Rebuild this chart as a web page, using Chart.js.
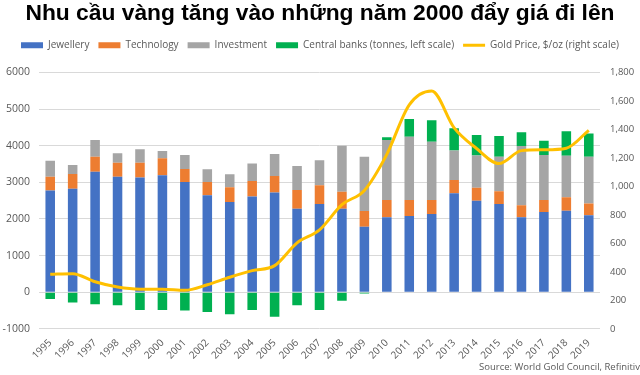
<!DOCTYPE html>
<html>
<head>
<meta charset="utf-8">
<script src="https://cdn.jsdelivr.net/npm/chart.js@4"></script>
<style>
  html, body { margin: 0; padding: 0; background: #fff; }
  #wrap { width: 640px; height: 375px; }
</style>
</head>
<body>
<div id="wrap"><canvas id="chartVang"></canvas></div>
<script>
// Dữ liệu (tấn, giá USD/oz)
const years = ['1995','1996','1997','1998','1999','2000','2001','2002','2003','2004','2005','2006','2007',
               '2008','2009','2010','2011','2012','2013','2014','2015','2016','2017','2018','2019'];
const jewellery   = [2775, 2825, 3290, 3155, 3135, 3190, 3010, 2645, 2465, 2610, 2720, 2280, 2410,
                     2280, 1790, 2045, 2080, 2135, 2700, 2500, 2410, 2045, 2190, 2225, 2100];
const technology  = [380, 400, 410, 380, 400, 465, 355, 365, 400, 425, 455, 510, 510,
                     465, 425, 475, 435, 380, 365, 355, 345, 330, 325, 365, 325];
const investment  = [435, 245, 455, 255, 365, 200, 380, 345, 355, 480, 600, 655, 680,
                     1255, 1480, 1635, 1730, 1590, 800, 880, 945, 1615, 1230, 1135, 1275];
const centralBanks = [-180, -280, -325, -355, -480, -480, -500, -535, -600, -480, -665, -355, -480,
                      -230, -30, 75, 480, 590, 610, 555, 565, 375, 390, 665, 635];
const goldPrice   = [384, 388, 331, 294, 279, 279, 271, 310, 363, 409, 444, 604, 695,
                     872, 972, 1225, 1572, 1669, 1411, 1266, 1160, 1251, 1257, 1268, 1393];

const mauChu = '#595959';

// thêm khoảng trống dưới chú thích
const legendMargin = {
    id: 'legendMargin',
    beforeInit(chart) {
        const fitGoc = chart.legend.fit;
        chart.legend.fit = function () {
            fitGoc.call(this);
            this.height += 12;
        };
    }
};

new Chart(document.getElementById('chartVang'), {
    type: 'bar',
    data: {
        labels: years,
        datasets: [
            { label: 'Jewellery', data: jewellery, backgroundColor: '#4472C4', borderWidth: 0, order: 1, pointStyle: 'rect' },
            { label: 'Technology', data: technology, backgroundColor: '#ED7D31', borderWidth: 0, order: 1, pointStyle: 'rect' },
            { label: 'Investment', data: investment, backgroundColor: '#A5A5A5', borderWidth: 0, order: 1, pointStyle: 'rect' },
            { label: 'Central banks (tonnes, left scale)', data: centralBanks, backgroundColor: '#00B050', borderWidth: 0, order: 1, pointStyle: 'rect' },
            {
                type: 'line',
                label: 'Gold Price, $/oz (right scale)',
                data: goldPrice,
                yAxisID: 'y1',
                borderColor: '#FFC000',
                backgroundColor: '#FFC000',
                borderWidth: 3,
                pointRadius: 0,
                pointStyle: 'line',
                cubicInterpolationMode: 'monotone',
                order: 0
            }
        ]
    },
    plugins: [legendMargin],
    options: {
        responsive: true,
        maintainAspectRatio: false,
        animation: false,
        categoryPercentage: 0.5,
        barPercentage: 0.85,
        layout: { padding: { left: 0, right: 0, top: 0, bottom: 0 } },
        plugins: {
            title: {
                display: true,
                text: 'Nhu cầu vàng tăng vào những năm 2000 đẩy giá đi lên',
                align: 'center',
                color: '#000',
                font: { family: 'Liberation Sans', size: 22.8, weight: 'bold' },
                padding: { top: 0, bottom: 4 }
            },
            subtitle: {
                display: true,
                position: 'bottom',
                align: 'end',
                text: 'Source: World Gold Council, Refinitiv',
                color: mauChu,
                font: { family: 'Open Sans', size: 9.5 },
                padding: { top: 0, bottom: 2 }
            },
            legend: {
                position: 'top',
                align: 'center',
                labels: {
                    color: mauChu,
                    font: { family: 'Open Sans', size: 10 },
                    usePointStyle: true,
                    pointStyleWidth: 22,
                    boxHeight: 6,
                    padding: 9,
                    sort: (a, b) => a.datasetIndex - b.datasetIndex
                }
            },
            tooltip: { enabled: false }
        },
        scales: {
            x: {
                stacked: true,
                grid: { display: false },
                border: { display: false },
                afterFit: s => { s.paddingLeft = 0; s.paddingRight = 0; },
                ticks: {
                    color: mauChu,
                    font: { family: 'Open Sans', size: 10 },
                    minRotation: 45,
                    maxRotation: 45,
                    autoSkip: false,
                    padding: 0
                }
            },
            y: {
                stacked: true,
                min: -1000,
                max: 6000,
                position: 'left',
                grid: { color: '#D9D9D9', drawTicks: false },
                border: { display: false },
                afterFit: s => { s.width = 39; },
                ticks: {
                    stepSize: 1000,
                    color: mauChu,
                    font: { family: 'Open Sans', size: 10.5 },
                    padding: 9,
                    callback: v => String(v)
                }
            },
            y1: {
                min: 0,
                max: 1800,
                position: 'right',
                grid: { display: false, drawTicks: false },
                border: { display: false },
                afterFit: s => { s.width = 40; },
                ticks: {
                    stepSize: 200,
                    color: mauChu,
                    font: { family: 'Open Sans', size: 9.5 },
                    padding: 10,
                    callback: v => v.toLocaleString('en-US')
                }
            }
        }
    }
});
</script>
</body>
</html>
